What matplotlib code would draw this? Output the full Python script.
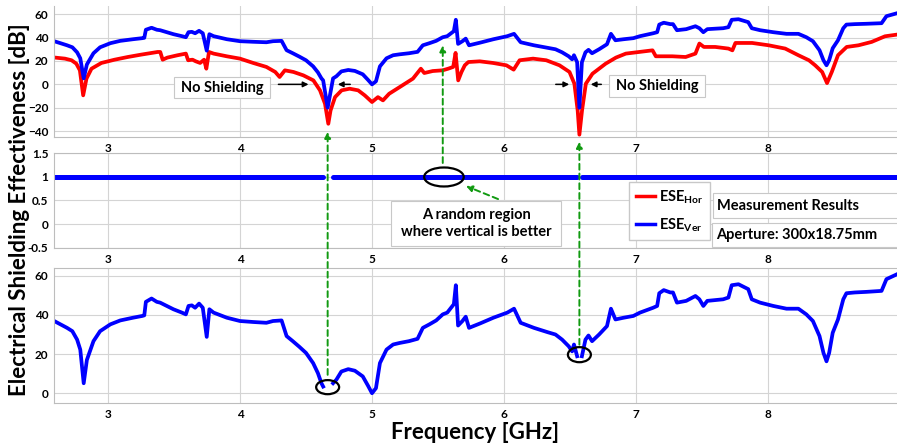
import numpy as np
import matplotlib.pyplot as plt
from matplotlib.patches import Ellipse, Rectangle, ConnectionPatch
from matplotlib.lines import Line2D

plt.rcParams['font.family'] = ['Lato', 'DejaVu Sans']
plt.rcParams['font.weight'] = 'bold'
plt.rcParams['mathtext.fontset'] = 'custom'
plt.rcParams['mathtext.rm'] = 'Lato:bold'
plt.rcParams['mathtext.bf'] = 'Lato:bold'
plt.rcParams['mathtext.it'] = 'Lato:bold'

# ESE vertical polarisation (blue), frequency in GHz, ESE in dB
freq_ver = [2.59, 2.665, 2.69, 2.73, 2.766, 2.79, 2.816, 2.84, 2.89, 2.94,
            3.018, 3.093, 3.19, 3.26, 3.275, 3.287, 3.33, 3.37, 3.395, 3.446,
            3.496, 3.56, 3.59, 3.61, 3.635, 3.66, 3.69, 3.718, 3.748, 3.768,
            3.8, 3.9, 4.0, 4.1, 4.2, 4.25, 4.315, 4.353, 4.40, 4.45,
            4.50, 4.554, 4.59, 4.617, 4.63, 4.664, 4.705, 4.73, 4.768, 4.82,
            4.87, 4.93, 4.97, 5.0, 5.03, 5.06, 5.11, 5.16, 5.21, 5.28,
            5.345, 5.385, 5.435, 5.486, 5.536, 5.57, 5.62, 5.635, 5.652, 5.685,
            5.71, 5.735, 5.82, 5.92, 6.025, 6.076, 6.126, 6.227, 6.33, 6.39,
            6.44, 6.49, 6.516, 6.53, 6.554, 6.571, 6.59, 6.617, 6.64, 6.667,
            6.72, 6.78, 6.81, 6.844, 6.907, 6.98, 7.03, 7.13, 7.16, 7.176,
            7.21, 7.26, 7.28, 7.31, 7.38, 7.45, 7.48, 7.51, 7.54, 7.66,
            7.70, 7.725, 7.776, 7.85, 7.877, 7.94, 8.04, 8.14, 8.23, 8.29,
            8.34, 8.39, 8.42, 8.443, 8.463, 8.49, 8.53, 8.57, 8.594, 8.657,
            8.745, 8.86, 8.897, 8.98]
ese_ver = [37.0, 34.3, 33.4, 31.7, 27.4, 22.3, 5.1, 17.0, 26.6, 31.7,
           35.2, 37.2, 38.6, 39.5, 39.8, 46.7, 48.4, 46.7, 46.3, 44.6,
           42.9, 41.2, 40.3, 44.6, 44.9, 43.7, 45.8, 43.7, 28.8, 42.9,
           41.2, 38.6, 36.9, 36.4, 36.0, 36.9, 37.2, 29.2, 26.6, 23.7,
           20.6, 15.4, 10.3, 5.1, 3.4, -20.0, 5.1, 6.9, 11.1, 12.3,
           11.5, 8.6, 3.8, 0.0, 2.6, 15.4, 22.3, 24.9, 25.7, 26.6,
           27.8, 33.4, 35.2, 37.2, 40.3, 41.2, 45.5, 55.2, 34.6, 36.9,
           39.1, 33.4, 35.7, 38.6, 41.2, 43.2, 36.0, 33.4, 31.2, 30.0,
           27.4, 24.0, 21.4, 24.9, 18.9, -20.0, 18.9, 27.4, 29.5, 26.6,
           30.0, 34.3, 43.2, 37.7, 38.6, 39.5, 41.2, 43.7, 44.6, 51.1,
           52.7, 51.5, 51.5, 46.3, 47.2, 49.7, 48.0, 44.6, 47.2, 48.0,
           48.9, 55.2, 55.7, 53.2, 48.0, 46.3, 44.6, 43.2, 43.2, 40.3,
           36.9, 29.2, 20.6, 16.3, 20.6, 30.9, 37.7, 48.0, 51.1, 51.5,
           51.8, 52.3, 58.3, 60.9]

# ESE horizontal polarisation (red)
freq_hor = [2.59, 2.674, 2.724, 2.76, 2.787, 2.812, 2.837, 2.875, 2.95, 3.05,
            3.15, 3.25, 3.376, 3.396, 3.414, 3.45, 3.527, 3.59, 3.607, 3.64,
            3.665, 3.698, 3.728, 3.745, 3.765, 3.80, 3.90, 4.0, 4.10, 4.20,
            4.267, 4.30, 4.34, 4.405, 4.48, 4.556, 4.606, 4.644, 4.669, 4.686,
            4.72, 4.77, 4.83, 4.895, 4.945, 5.0, 5.045, 5.083, 5.13, 5.21,
            5.31, 5.37, 5.396, 5.46, 5.535, 5.577, 5.615, 5.633, 5.653, 5.678,
            5.703, 5.73, 5.816, 5.917, 6.018, 6.073, 6.118, 6.22, 6.32, 6.42,
            6.496, 6.533, 6.558, 6.571, 6.591, 6.62, 6.67, 6.77, 6.848, 6.923,
            7.024, 7.125, 7.15, 7.275, 7.376, 7.45, 7.48, 7.514, 7.60, 7.70,
            7.73, 7.753, 7.88, 8.005, 8.13, 8.23, 8.31, 8.357, 8.41, 8.447,
            8.483, 8.53, 8.596, 8.685, 8.785, 8.886, 8.98]
ese_hor = [23.0, 22.0, 20.6, 17.7, 12.0, -9.4, 4.9, 13.4, 18.3, 21.1,
           23.4, 25.4, 27.7, 27.7, 21.1, 22.9, 24.9, 26.3, 20.6, 21.1,
           19.7, 18.3, 21.1, 13.4, 27.7, 26.3, 24.0, 22.0, 18.3, 14.9,
           10.6, 6.3, 12.0, 10.6, 7.7, 3.4, -5.1, -16.6, -33.7, -22.3,
           -10.9, -5.1, -3.7, -5.1, -9.4, -15.1, -10.9, -13.7, -8.0, -2.3,
           4.9, 13.4, 9.7, 11.4, 12.0, 13.4, 14.9, 26.9, 3.4, 10.6,
           16.3, 19.1, 19.7, 18.3, 16.3, 12.6, 20.6, 22.0, 20.6, 16.3,
           10.6, 0.6, -22.3, -43.0, -22.3, 0.6, 9.1, 17.7, 22.9, 26.3,
           27.7, 29.1, 24.0, 24.0, 23.4, 26.3, 34.9, 32.0, 32.0, 30.6,
           29.1, 35.4, 35.4, 33.4, 30.6, 24.9, 20.6, 16.3, 10.6, 1.1,
           10.6, 24.9, 32.0, 33.4, 36.3, 41.1, 42.6]

# frequency bands with no shielding (indicator = 0)
no_shield_bands = [(4.63, 4.705), (6.556, 6.589)]

x_ticks = [3, 4, 5, 6, 7, 8]
x_range = (2.591, 8.977)

W, H = 897, 444
fig = plt.figure(figsize=(W / 100, H / 100), dpi=100)


def px_box(left, top, right, bottom):
    """pixel box -> figure fraction rect"""
    return [left / W, 1 - bottom / H, (right - left) / W, (bottom - top) / H]


ax1 = fig.add_axes(px_box(54, 6, 897, 137))
ax2 = fig.add_axes(px_box(54, 153, 897, 248))
ax3 = fig.add_axes(px_box(54, 268, 897, 403))

blue = '#0000ff'
red = '#ff0000'
green = '#119a11'

fv = np.array(freq_ver)
ev = np.array(ese_ver)
gap = np.zeros(len(fv), dtype=bool)
for lo, hi in no_shield_bands:
    gap |= (fv > lo) & (fv < hi)

ax1.plot(freq_hor, ese_hor, color=red, lw=2.7, solid_joinstyle='round')
ax1.plot(fv, ev, color=blue, lw=2.7, solid_joinstyle='round')

# indicator line: 1 where vertical is better, broken in the no-shielding bands
ind_x, ind_y = [x_range[0]], [1]
for lo, hi in no_shield_bands:
    ind_x += [lo, np.nan, hi]
    ind_y += [1, np.nan, 1]
ind_x.append(x_range[1])
ind_y.append(1)
ax2.plot(ind_x, ind_y, color=blue, lw=3.6, solid_capstyle='round')

ax3.plot(fv, np.where(gap, np.nan, ev), color=blue, lw=2.7, solid_joinstyle='round')

for ax, ylim, yt, ylabels in [
        (ax1, (-45, 67), [-40, -20, 0, 20, 40, 60], None),
        (ax2, (-0.5, 1.5), [-0.5, 0, 0.5, 1, 1.5], ['-0.5', '0', '0.5', '1', '1.5']),
        (ax3, (-5, 64), [0, 20, 40, 60], None)]:
    ax.set_xlim(*x_range)
    ax.set_ylim(*ylim)
    ax.set_xticks(x_ticks)
    ax.set_yticks(yt)
    if ylabels:
        ax.set_yticklabels(ylabels)
    ax.grid(True, color='#d4d4d4', lw=0.8)
    ax.tick_params(length=0, labelsize=8.5, pad=4)
    for lab in ax.get_xticklabels() + ax.get_yticklabels():
        lab.set_fontweight('bold')
    for s in ax.spines.values():
        s.set_color('#bdbdbd')
        s.set_linewidth(0.8)
    ax.spines['right'].set_visible(False)
ax1.spines['top'].set_visible(False)

# legend
handles = [Line2D([], [], color=red, lw=2.5), Line2D([], [], color=blue, lw=2.5)]
fig.legend(handles, [r'ESE$_{\mathrm{Hor}}$', r'ESE$_{\mathrm{Ver}}$'],
           loc='upper left', bbox_to_anchor=(629 / W, 1 - 182 / H), borderaxespad=0,
           fontsize=10.5, handlelength=1.3, handletextpad=0.3, labelspacing=0.7,
           borderpad=0.45, fancybox=False, edgecolor='#c8c8c8', framealpha=1)


def label_box(left, top, right, bottom, text, ha='center', fs=10.5, ls=1.2):
    fig.add_artist(Rectangle((left / W, 1 - bottom / H), (right - left) / W,
                             (bottom - top) / H, transform=fig.transFigure,
                             fc='white', ec='#c8c8c8', lw=0.8, zorder=3))
    tx = (left + 4) / W if ha == 'left' else (left + right) / 2 / W
    fig.text(tx, 1 - (top + bottom) / 2 / H, text, ha=ha, va='center',
             fontsize=fs, fontweight='bold', linespacing=ls, zorder=4)


label_box(174, 77, 270, 98, 'No Shielding')
label_box(609, 75, 705, 97, 'No Shielding')
label_box(391, 201, 561, 246, 'A random region\nwhere vertical is better', ls=1.35)
label_box(713, 193, 900, 218, 'Measurement Results', ha='left')
label_box(712, 223, 900, 247, 'Aperture: 300x18.75mm', ha='left')

# black arrows pointing at the no-shielding dips
blk = dict(arrowstyle='-|>', color='black', lw=1.1, mutation_scale=8)
for x0, x1 in [(4.27, 4.54), (4.856, 4.72), (6.371, 6.515), (6.758, 6.636)]:
    ax1.annotate('', xy=(x1, 0), xytext=(x0, 0), arrowprops=blk)

# ellipses
ax2.add_patch(Ellipse((5.545, 0.995), 0.30, 0.40, fill=False, ec='black', lw=1.6, zorder=5))
ax3.add_patch(Ellipse((4.664, 3.1), 0.174, 7.2, fill=False, ec='black', lw=1.6, zorder=5))
ax3.add_patch(Ellipse((6.571, 19.7), 0.174, 7.7, fill=False, ec='black', lw=1.6, zorder=5))

# green dashed arrows linking the panels
for xyA, axA, xyB, axB in [((4.664, 9.4), ax3, (4.664, -40.5), ax1),
                           ((6.571, 24.8), ax3, (6.571, -49), ax1),
                           ((5.536, 1.29), ax2, (5.536, 33.4), ax1),
                           ((5.955, 0.53), ax2, (5.712, 0.805), ax2)]:
    con = ConnectionPatch(xyA=xyA, coordsA=axA.transData, xyB=xyB, coordsB=axB.transData,
                          arrowstyle='-|>', linestyle=(0, (3, 2)), color=green,
                          lw=1.4, mutation_scale=9, zorder=6)
    fig.add_artist(con)

fig.text(20 / W, 1 - 210 / H, 'Electrical Shielding Effectiveness [dB]', rotation=90,
         ha='center', va='center', fontsize=16, fontweight='bold')
fig.text(475 / W, 1 - 432 / H, 'Frequency [GHz]', ha='center', va='center',
         fontsize=16, fontweight='bold')

fig.savefig('out.png', dpi=100)
